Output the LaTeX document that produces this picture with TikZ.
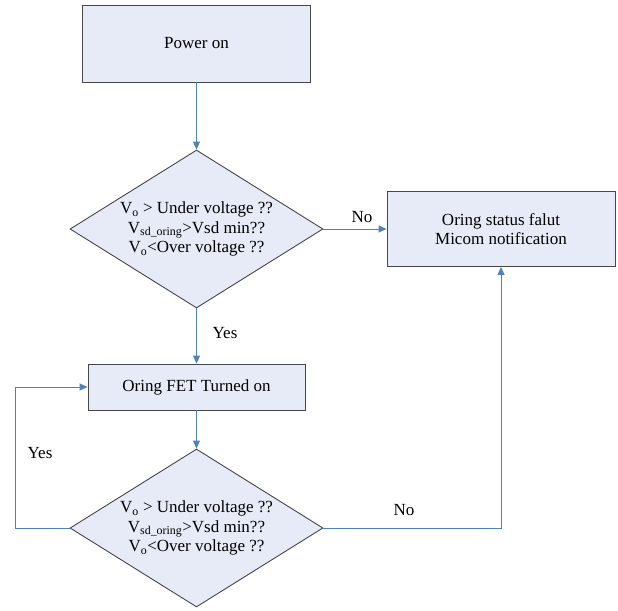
\documentclass[tikz,border=0pt]{standalone}
\usepackage{fontspec}
\setmainfont{Liberation Serif}
\usetikzlibrary{shapes.geometric,arrows.meta}
\definecolor{boxfill}{RGB}{231,235,247}
\definecolor{boxline}{RGB}{70,70,75}
\definecolor{arrowblue}{RGB}{79,129,189}
\tikzset{
  procbox/.style={draw=boxline, fill=boxfill, line width=0.9pt, inner sep=0pt},
  decision/.style={diamond, draw=boxline, fill=boxfill, line width=0.9pt, inner sep=0pt, minimum width=253pt, minimum height=158pt},
  txt/.style={font=\fontsize{17}{19.5}\selectfont, align=center, inner sep=0pt},
  flow/.style={draw=arrowblue, line width=0.9pt, -{Triangle[width=7pt,length=8pt]}},
  lbl/.style={font=\fontsize{17}{19.5}\selectfont, inner sep=0pt}
}
\begin{document}
\begin{tikzpicture}[x=1pt,y=-1pt]
\useasboundingbox (0,0) rectangle (618,610);
\node[procbox, minimum width=228pt, minimum height=77pt] (pwr) at (196.5,43.5) {};
\node[txt] (pwrt) at (pwr) {Power on};
\node[decision] (d1) at (196.5,229) {};
\node[txt] (d1t) at (196.5,229) {V\textsubscript{o} > Under voltage ??\\V\textsubscript{sd\_oring}>Vsd min??\\V\textsubscript{o}<Over voltage ??};
\node[procbox, minimum width=228pt, minimum height=75pt] (err) at (501,229) {};
\node[txt] (errt) at (err) {Oring status falut\\Micom notification};
\node[procbox, minimum width=217pt, minimum height=46pt] (fet) at (196.5,387) {};
\node[txt] (fett) at (fet) {Oring FET Turned on};
\node[decision] (d2) at (196.5,528) {};
\node[txt] (d2t) at (196.5,528) {V\textsubscript{o} > Under voltage ??\\V\textsubscript{sd\_oring}>Vsd min??\\V\textsubscript{o}<Over voltage ??};
\coordinate (loopx) at (15,528);
\draw[flow] (pwr.south) -- (d1.north);
\draw[flow] (d1.east) -- (err.west);
\draw[flow] (d1.south) -- (fet.north);
\draw[flow] (fet.south) -- (d2.north);
\draw[flow] (d2.west) -- (loopx) |- (fet.west);
\draw[flow] (d2.east) -| (err.south);
\node[lbl] (no1) at (362,217) {No};
\node[lbl] (yes1) at (225,333) {Yes};
\node[lbl] (yes2) at (40,453) {Yes};
\node[lbl] (no2) at (404,510) {No};
\end{tikzpicture}
\end{document}
